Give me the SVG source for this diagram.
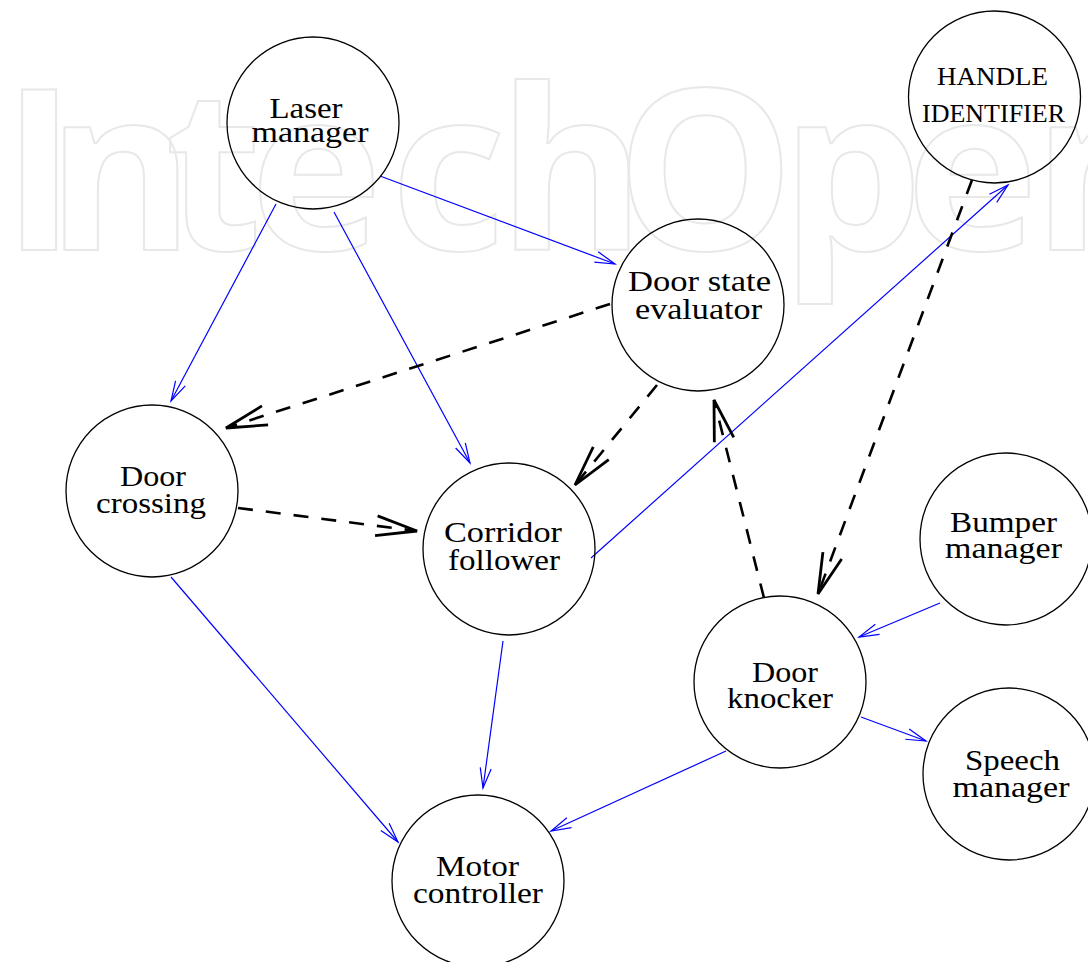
<svg xmlns="http://www.w3.org/2000/svg" width="1088" height="962" viewBox="0 0 1088 962">
<style>
.wm{font-family:"Open Sans","Liberation Sans",sans-serif;font-weight:700;font-size:224px;fill:none;stroke:#e8e8e8;stroke-width:2}
.node circle{fill:none;stroke:#000;stroke-width:1.3}
.lbl{font-family:"Liberation Serif","Times New Roman",serif;font-size:30px;fill:#000;text-anchor:middle}
.sc{font-size:25px}
.blue{fill:none;stroke:#0000ff;stroke-width:1.2}
.dash{fill:none;stroke:#000;stroke-width:2.6;stroke-dasharray:15 13}
</style>
<defs>
<marker id="ab" markerUnits="userSpaceOnUse" markerWidth="30" markerHeight="20" refX="0" refY="0" orient="auto" overflow="visible">
<path d="M-20,-5.5 L0,0 L-20,5.5" fill="none" stroke="#0000ff" stroke-width="1.2"/>
</marker>
<marker id="ak" markerUnits="userSpaceOnUse" markerWidth="50" markerHeight="30" refX="0" refY="0" orient="auto" overflow="visible">
<path d="M-41,-10 L0,0 L-41,10" fill="none" stroke="#000" stroke-width="2.8" stroke-dasharray="none" stroke-linejoin="miter"/>
</marker>
</defs>
<rect width="1088" height="962" fill="#fff"/>
<text class="wm" x="2 47 165 250 391 498 616 781 906 1033" y="250">IntechOpen</text>
<g id="connectors">
<path class="blue" marker-end="url(#ab)" d="M276,204 L171,401"/>
<path class="blue" marker-end="url(#ab)" d="M334,212 L470,463"/>
<path class="blue" marker-end="url(#ab)" d="M380,176 L615,264"/>
<path class="blue" marker-end="url(#ab)" d="M591,558 L1008,185"/>
<path class="blue" marker-end="url(#ab)" d="M171,577 L398,842"/>
<path class="blue" marker-end="url(#ab)" d="M503,641 L483,788"/>
<path class="blue" marker-end="url(#ab)" d="M726,751 L551,831"/>
<path class="blue" marker-end="url(#ab)" d="M940,603 L859,637"/>
<path class="blue" marker-end="url(#ab)" d="M861,717 L926,741"/>
<path class="dash" marker-end="url(#ak)" d="M610,304 L226,428"/>
<path class="dash" marker-end="url(#ak)" d="M657,385 L575,485"/>
<path class="dash" marker-end="url(#ak)" d="M238,508 L417,531"/>
<path class="dash" marker-end="url(#ak)" d="M764,598 L714,400"/>
<path class="dash" marker-end="url(#ak)" d="M972,180 L818,594"/>
</g>
<g id="laser-manager" class="node">
<circle cx="313" cy="123" r="86"/>
<text class="lbl" x="306" y="118" textLength="73" lengthAdjust="spacingAndGlyphs">Laser</text>
<text class="lbl" x="310" y="142" textLength="117" lengthAdjust="spacingAndGlyphs">manager</text>
</g>
<g id="handle-identifier" class="node">
<circle cx="994.5" cy="97" r="86"/>
<text class="lbl sc" x="992.5" y="85" textLength="111" lengthAdjust="spacingAndGlyphs">HANDLE</text>
<text class="lbl sc" x="993.5" y="122" textLength="143" lengthAdjust="spacingAndGlyphs">IDENTIFIER</text>
</g>
<g id="door-state-evaluator" class="node">
<circle cx="698" cy="305" r="86"/>
<text class="lbl" x="699.5" y="291" textLength="143" lengthAdjust="spacingAndGlyphs">Door state</text>
<text class="lbl" x="698.5" y="319" textLength="127" lengthAdjust="spacingAndGlyphs">evaluator</text>
</g>
<g id="door-crossing" class="node">
<circle cx="152" cy="491" r="86"/>
<text class="lbl" x="153" y="486" textLength="66" lengthAdjust="spacingAndGlyphs">Door</text>
<text class="lbl" x="151" y="513" textLength="110" lengthAdjust="spacingAndGlyphs">crossing</text>
</g>
<g id="corridor-follower" class="node">
<circle cx="509" cy="549" r="86"/>
<text class="lbl" x="503" y="542" textLength="118" lengthAdjust="spacingAndGlyphs">Corridor</text>
<text class="lbl" x="504" y="570" textLength="112" lengthAdjust="spacingAndGlyphs">follower</text>
</g>
<g id="bumper-manager" class="node">
<circle cx="1006" cy="539" r="86"/>
<text class="lbl" x="1003.5" y="532" textLength="107" lengthAdjust="spacingAndGlyphs">Bumper</text>
<text class="lbl" x="1003.5" y="558" textLength="117" lengthAdjust="spacingAndGlyphs">manager</text>
</g>
<g id="door-knocker" class="node">
<circle cx="780" cy="682" r="86"/>
<text class="lbl" x="785" y="682" textLength="66" lengthAdjust="spacingAndGlyphs">Door</text>
<text class="lbl" x="780" y="708" textLength="106" lengthAdjust="spacingAndGlyphs">knocker</text>
</g>
<g id="speech-manager" class="node">
<circle cx="1009" cy="774" r="86"/>
<text class="lbl" x="1012.5" y="770" textLength="95" lengthAdjust="spacingAndGlyphs">Speech</text>
<text class="lbl" x="1011" y="797" textLength="117" lengthAdjust="spacingAndGlyphs">manager</text>
</g>
<g id="motor-controller" class="node">
<circle cx="478" cy="881" r="86"/>
<text class="lbl" x="477.5" y="876" textLength="83" lengthAdjust="spacingAndGlyphs">Motor</text>
<text class="lbl" x="478" y="903" textLength="130" lengthAdjust="spacingAndGlyphs">controller</text>
</g>
</svg>
